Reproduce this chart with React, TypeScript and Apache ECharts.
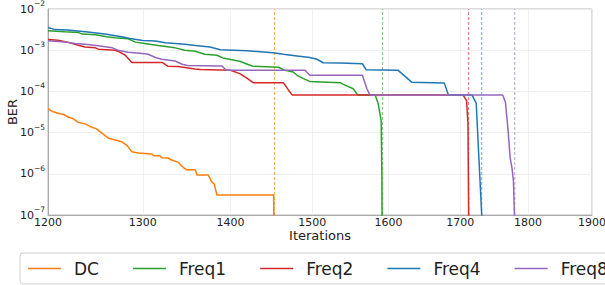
import React, { useEffect, useRef } from "react";
import * as echarts from "echarts";

// ---------- data ----------
const X_TICKS = [1200, 1300, 1400, 1500, 1600, 1700, 1800, 1900];
const Y_MIN = 1e-7;
const Y_MAX = 1e-2;
const SERIES_NAMES = ["DC", "Freq1", "Freq2", "Freq4", "Freq8"];
const COLORS = ["#ff7f0e", "#2ca02c", "#d62728", "#1f77b4", "#9467bd"];
const DASH_COLORS = [
  "rgba(255,127,14,0.65)",
  "rgba(44,160,44,0.65)",
  "rgba(214,39,40,0.65)",
  "rgba(31,119,180,0.65)",
  "rgba(148,103,189,0.65)",
];
// iteration at which each run finished (dashed vertical lines)
const END_ITER = [1453, 1592, 1712, 1731, 1780];

const DC: [number, number][] = [
  [1200, 3.79e-5], [1204, 3.31e-5], [1210, 2.96e-5], [1216, 2.75e-5], [1221, 2.36e-5],
  [1226, 2.16e-5], [1231, 1.78e-5], [1238, 1.63e-5], [1243, 1.43e-5], [1250, 1.23e-5],
  [1257, 9.3e-6], [1263, 7.26e-6], [1270, 6.64e-6], [1277, 6.03e-6], [1283, 4.82e-6],
  [1288, 3.44e-6], [1295, 3.2e-6], [1310, 3.02e-6], [1312, 2.75e-6], [1319, 2.75e-6],
  [1321, 2.46e-6], [1328, 2.42e-6], [1332, 2.16e-6], [1340, 1.89e-6], [1343, 1.57e-6],
  [1349, 1.25e-6], [1359, 1.25e-6], [1361, 9.3e-7], [1374, 9.3e-7], [1378, 6.38e-7],
  [1381, 5.61e-7], [1384, 3.05e-7], [1452, 3.05e-7], [1453, 1e-9],
];

const FREQ1: [number, number][] = [
  [1200, 2.95e-3], [1217, 2.79e-3], [1231, 2.7e-3], [1235, 2.46e-3], [1249, 2.36e-3],
  [1261, 2.11e-3], [1270, 2.0e-3], [1284, 1.89e-3], [1292, 1.57e-3], [1302, 1.46e-3],
  [1317, 1.3e-3], [1336, 1.14e-3], [1347, 1.0e-3], [1359, 9.45e-4], [1370, 7.99e-4],
  [1384, 7.55e-4], [1391, 6.49e-4], [1411, 5.39e-4], [1421, 4.48e-4], [1427, 4.07e-4],
  [1458, 3.85e-4], [1466, 3.25e-4], [1476, 2.96e-4], [1481, 2.46e-4], [1489, 2.04e-4],
  [1497, 1.75e-4], [1536, 1.63e-4], [1540, 1.48e-4], [1553, 1.16e-4], [1559, 8.14e-5],
  [1582, 8.14e-5], [1586, 5.1e-5], [1590, 1.96e-5], [1591, 1e-6], [1591.5, 1e-9],
];

const FREQ2: [number, number][] = [
  [1200, 1.82e-3], [1210, 1.75e-3], [1220, 1.57e-3], [1231, 1.32e-3], [1238, 1.2e-3],
  [1249, 1.14e-3], [1252, 1.06e-3], [1270, 1.0e-3], [1273, 9.45e-4], [1281, 7.55e-4],
  [1288, 5.01e-4], [1322, 5.01e-4], [1328, 4.07e-4], [1339, 4.0e-4], [1359, 3.5e-4],
  [1365, 3.38e-4], [1400, 3.25e-4], [1411, 2.7e-4], [1420, 2.07e-4], [1427, 1.63e-4],
  [1464, 1.63e-4], [1470, 1.1e-4], [1475, 8.14e-5], [1704, 8.14e-5], [1709, 6.0e-5],
  [1711, 1.66e-5], [1712, 1e-7], [1712.3, 1e-9],
];

const FREQ4: [number, number][] = [
  [1200, 3.54e-3], [1207, 3.16e-3], [1220, 3.08e-3], [1241, 2.75e-3], [1259, 2.46e-3],
  [1277, 2.11e-3], [1286, 1.93e-3], [1300, 1.72e-3], [1314, 1.68e-3], [1325, 1.51e-3],
  [1347, 1.4e-3], [1359, 1.3e-3], [1376, 1.2e-3], [1388, 1.03e-3], [1420, 9.7e-4],
  [1451, 8.69e-4], [1464, 7.99e-4], [1481, 7.26e-4], [1497, 6.64e-4], [1506, 6.03e-4],
  [1514, 4.96e-4], [1536, 4.9e-4], [1565, 4.69e-4], [1570, 3.35e-4], [1613, 3.25e-4],
  [1632, 1.66e-4], [1677, 1.61e-4], [1683, 8.14e-5], [1717, 8.14e-5], [1723, 5.1e-5],
  [1727, 2.2e-6], [1731, 1e-7], [1731.3, 1e-9],
];

const FREQ8: [number, number][] = [
  [1200, 1.69e-3], [1217, 1.59e-3], [1228, 1.46e-3], [1241, 1.38e-3], [1254, 1.27e-3],
  [1267, 1.14e-3], [1273, 1.0e-3], [1284, 8.94e-4], [1300, 8.31e-4], [1306, 7.99e-4],
  [1314, 6.64e-4], [1321, 6.03e-4], [1336, 5.48e-4], [1344, 4.56e-4], [1350, 4.24e-4],
  [1390, 4.14e-4], [1395, 3.25e-4], [1491, 3.25e-4], [1497, 2.46e-4], [1565, 2.46e-4],
  [1571, 1.16e-4], [1575, 8.14e-5], [1762, 8.14e-5], [1766, 5.48e-5], [1770, 1.12e-5],
  [1773, 2.5e-6], [1776, 1.32e-6], [1778, 6.75e-7], [1779.5, 1e-7], [1780, 1e-9],
];

const SERIES_DATA = [DC, FREQ1, FREQ2, FREQ4, FREQ8];

const FONT = "DejaVu Sans";
const lg = (v: number) => Math.log10(v);

export default function App() {
  const ref = useRef<HTMLDivElement>(null);

  useEffect(() => {
    document.body.style.margin = "0";
    if (!ref.current) return;
    const chart = echarts.init(ref.current, null, { renderer: "svg" });

    const xTickVals = X_TICKS.map(lg);

    const curveSeries = SERIES_NAMES.map((name, i) => ({
      name,
      type: "line",
      data: SERIES_DATA[i].map(([x, y]) => [lg(x), y]),
      symbol: "none",
      showSymbol: false,
      clip: true,
      color: COLORS[i],
      lineStyle: { color: COLORS[i], width: 1.5 },
      itemStyle: { color: COLORS[i] },
      emphasis: { disabled: true },
      silent: true,
      z: 3,
    }));

    const endSeries = SERIES_NAMES.map((name, i) => ({
      name: name + " end",
      type: "line",
      data: [
        [lg(END_ITER[i]), Y_MIN],
        [lg(END_ITER[i]), Y_MAX],
      ],
      symbol: "none",
      showSymbol: false,
      clip: true,
      lineStyle: { type: [3, 2], color: DASH_COLORS[i], width: 1 },
      itemStyle: { color: DASH_COLORS[i] },
      emphasis: { disabled: true },
      silent: true,
      z: 2,
    }));

    const option: any = {
      animation: false,
      grid: {
        left: 48,
        right: 13,
        top: 9,
        bottom: 70,
        containLabel: false,
        outerBoundsMode: "none",
        show: true,
        borderColor: "#b8b8b8",
        borderWidth: 1,
        backgroundColor: "transparent",
      },
      xAxis: {
        type: "value",
        min: lg(X_TICKS[0]),
        max: lg(X_TICKS[X_TICKS.length - 1]),
        name: "Iterations",
        nameLocation: "middle",
        nameGap: 14,
        nameMoveOverlap: false,
        nameTextStyle: { fontSize: 13, color: "#222", fontFamily: FONT },
        axisLine: { show: true, lineStyle: { color: "#aaaaaa", width: 1 } },
        axisTick: { show: false, customValues: xTickVals },
        axisLabel: {
          customValues: xTickVals,
          formatter: (v: number) => String(Math.round(Math.pow(10, v))),
          fontSize: 11,
          color: "#222",
          fontFamily: FONT,
          margin: 2,
        },
        splitLine: { show: true, lineStyle: { color: "#ececec", width: 0.8 } },
      },
      yAxis: {
        type: "log",
        logBase: 10,
        min: Y_MIN,
        max: Y_MAX,
        name: "BER",
        nameLocation: "middle",
        nameGap: 29,
        nameMoveOverlap: false,
        nameRotate: 90,
        nameTextStyle: { fontSize: 13, color: "#222", fontFamily: FONT },
        axisLine: { show: true, lineStyle: { color: "#aaaaaa", width: 1 } },
        axisTick: { show: false },
        axisLabel: {
          margin: 3,
          formatter: (v: number) => {
            const e = Math.round(Math.log10(v));
            return `{b|10}{s|${e < 0 ? "\u2212" : ""}${Math.abs(e)}}`;
          },
          rich: {
            b: { fontSize: 11, color: "#222", fontFamily: FONT },
            s: { fontSize: 7.5, color: "#222", fontFamily: FONT, padding: [0, 0, 11, 0] },
          },
        },
        splitLine: { show: true, lineStyle: { color: "#ececec", width: 0.8 } },
      },
      legend: {
        data: SERIES_NAMES,
        left: 20,
        top: 253,
        width: 900,
        orient: "horizontal",
        icon: "rect",
        itemWidth: 33,
        itemHeight: 1.6,
        itemGap: 34,
        padding: [7, 6, 7, 8],
        borderColor: "#d0d0d0",
        borderWidth: 1,
        borderRadius: 3,
        backgroundColor: "#ffffff",
        selectedMode: false,
        textStyle: { fontSize: 17, color: "#222", fontFamily: FONT, padding: [0, 0, 0, 8] },
      },
      series: [...endSeries, ...curveSeries],
    };

    chart.setOption(option);
    return () => chart.dispose();
  }, []);

  return <div ref={ref} style={{ width: 605, height: 285 }} />;
}
